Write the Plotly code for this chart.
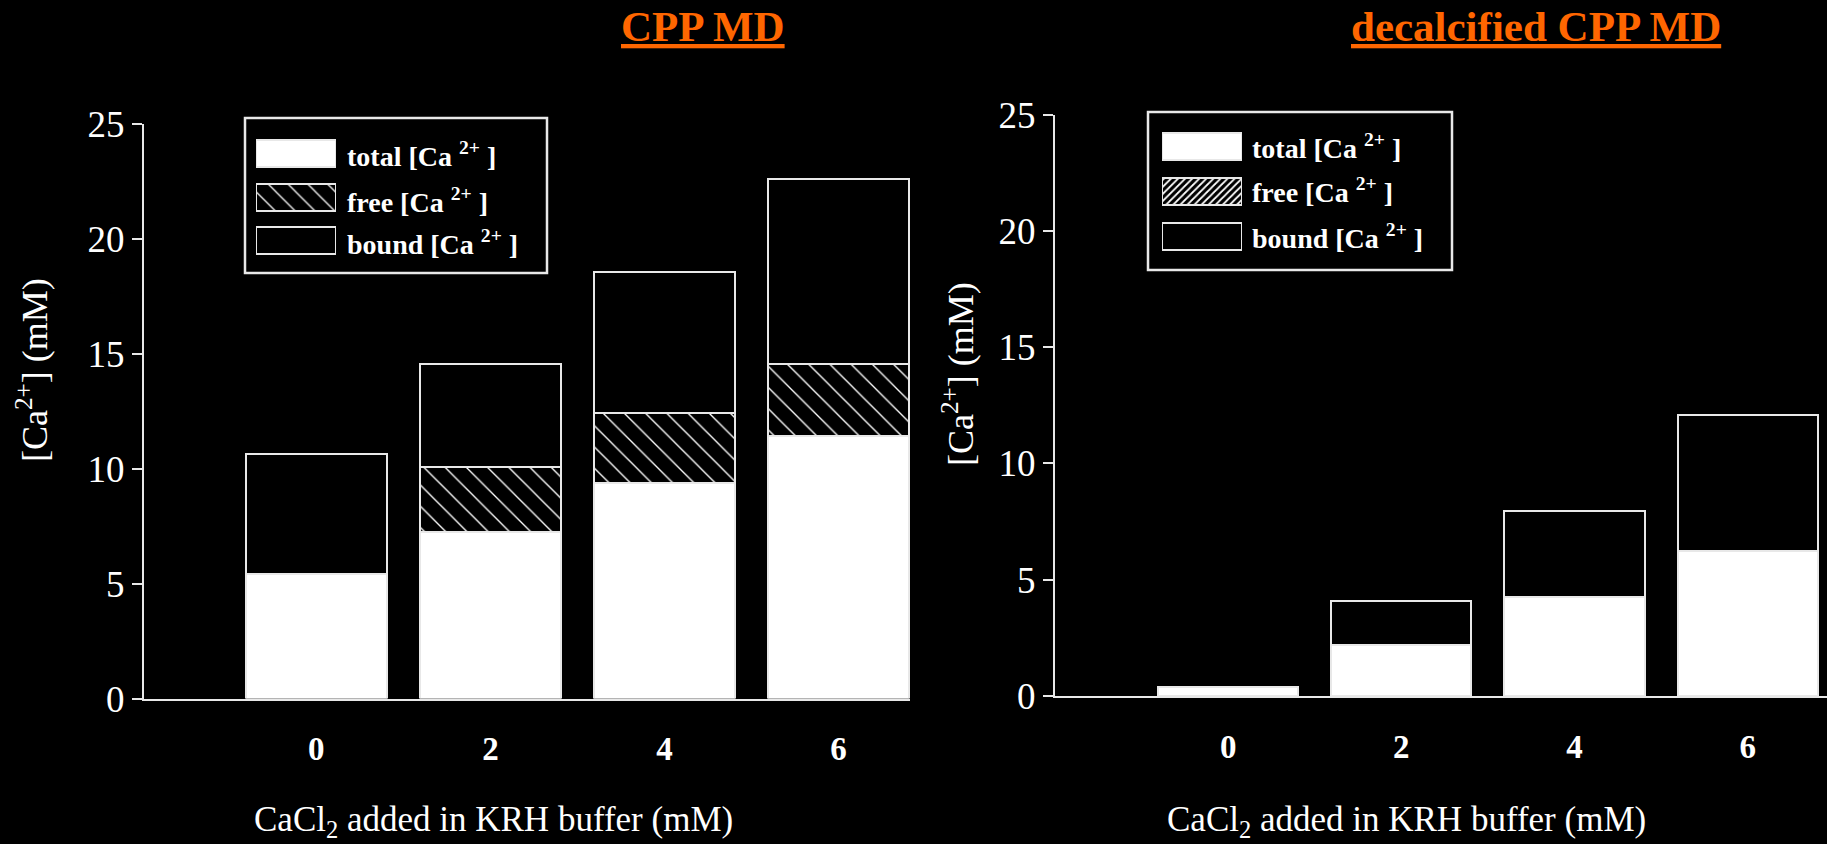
import plotly.graph_objects as go

# ---------------- data ----------------
categories = ["0", "2", "4", "6"]          # CaCl2 added (mM)

# CPP MD (left panel) – stacked segment heights (mM)
cpp_total = [5.43, 7.26, 9.39, 11.42]
cpp_free = [0.0, 2.81, 3.04, 3.14]
cpp_bound = [5.22, 4.51, 6.13, 8.03]

# decalcified CPP MD (right panel)
dec_total = [0.39, 2.22, 4.26, 6.23]
dec_free = [0.0, 0.0, 0.0, 0.0]
dec_bound = [0.0, 1.88, 3.73, 5.85]

series_names = ["total", "free", "bound"]
legend_labels = ["total [Ca <sup>2+</sup> ]", "free [Ca <sup>2+</sup> ]", "bound [Ca <sup>2+</sup> ]"]
titles = ["CPP MD", "decalcified CPP MD"]
x_title = "CaCl<sub>2</sub> added in KRH buffer (mM)"
y_title = "[Ca<sup>2+</sup>] (mM)"

# ---------------- styling ----------------
W, H = 1827, 844
SERIF = "Liberation Serif"
WHITE = "#ffffff"
EDGE = "#e8e8e8"
ORANGE = "#ff6600"


def px_x(p):
    return p / W


def px_y(p):
    return 1 - p / H


xpos = list(range(len(categories)))

fig = go.Figure()


def add_panel(totals, frees, bounds, xa, ya, free_shape, free_size):
    fig.add_trace(go.Bar(x=xpos, y=totals, name=series_names[0], width=0.81,
                         marker=dict(color=WHITE, line=dict(color=EDGE, width=2)),
                         xaxis=xa, yaxis=ya, showlegend=False, hoverinfo="y"))
    fig.add_trace(go.Bar(x=xpos, y=frees, name=series_names[1], width=0.81,
                         marker=dict(color="black", line=dict(color=EDGE, width=2),
                                     pattern=dict(shape=free_shape, fgcolor=WHITE, bgcolor="black",
                                                  size=free_size, solidity=0.09, fillmode="replace")),
                         xaxis=xa, yaxis=ya, showlegend=False, hoverinfo="y"))
    fig.add_trace(go.Bar(x=xpos, y=bounds, name=series_names[2], width=0.81,
                         marker=dict(color="black", line=dict(color=EDGE, width=2)),
                         xaxis=xa, yaxis=ya, showlegend=False, hoverinfo="y"))


add_panel(cpp_total, cpp_free, cpp_bound, "x", "y", "\\", 15)
add_panel(dec_total, dec_free, dec_bound, "x2", "y2", "/", 15)

# legend swatches drawn as bars on small hidden axes (one trace per row)
swatch_rows = [2, 1, 0]
for xa, ya, shp, sz, sol in [("x3", "y3", "\\", 14, 0.09), ("x4", "y4", "/", 5, 0.35)]:
    for k, row in enumerate(swatch_rows):
        marker = dict(color=WHITE if k == 0 else "black", line=dict(color=EDGE, width=2.5))
        if k == 1:
            marker["pattern"] = dict(shape=shp, fgcolor=WHITE, bgcolor="black",
                                     size=sz, solidity=sol, fillmode="replace")
        fig.add_trace(go.Bar(
            x=[1], y=[row], orientation="h", width=0.62, base=0,
            name=series_names[k], marker=marker,
            xaxis=xa, yaxis=ya, showlegend=False, hoverinfo="skip", cliponaxis=False))

xcommon = dict(showgrid=False, zeroline=False, showline=True, linecolor=EDGE, linewidth=2,
               ticks="", tickvals=xpos, ticktext=categories, automargin=False,
               tickfont=dict(family=SERIF, size=33, color=WHITE, weight="bold"),
               ticklabelstandoff=20, fixedrange=True)
ycommon = dict(showgrid=False, zeroline=False, showline=True, linecolor=EDGE, linewidth=2,
               ticks="outside", ticklen=10, tickwidth=2, tickcolor=EDGE, automargin=False,
               range=[0, 25], tickmode="linear", tick0=0, dtick=5,
               tickfont=dict(family=SERIF, size=37, color=WHITE), fixedrange=True)
hidden = dict(visible=False, fixedrange=True, automargin=False)

fig.update_layout(
    width=W, height=H, autosize=False,
    margin=dict(l=0, r=0, t=0, b=0, pad=0, autoexpand=False),
    paper_bgcolor="black", plot_bgcolor="black",
    barmode="stack", bargap=0,
    showlegend=False,
    xaxis=dict(xcommon, domain=[px_x(144), px_x(910)], range=[-0.99, 3.41], anchor="y"),
    yaxis=dict(ycommon, domain=[px_y(698.6), px_y(123.8)], anchor="x"),
    xaxis2=dict(xcommon, domain=[px_x(1055), 1.0], range=[-1.0, 3.458], anchor="y2"),
    yaxis2=dict(ycommon, domain=[px_y(695.9), px_y(114.6)], anchor="x2"),
    xaxis3=dict(hidden, domain=[px_x(256), px_x(336)], range=[0, 1], anchor="y3"),
    yaxis3=dict(hidden, domain=[px_y(262.75), px_y(132.25)], range=[-0.5, 2.5], anchor="x3"),
    xaxis4=dict(hidden, domain=[px_x(1162), px_x(1242)], range=[0, 1], anchor="y4"),
    yaxis4=dict(hidden, domain=[px_y(259), px_y(124)], range=[-0.5, 2.5], anchor="x4"),
)

shapes = []
annotations = []

# legend boxes and texts
for (bx0, bx1, by0, by1, tx, rows_y) in [
        (245, 547, 118, 273, 345, [155, 200, 243]),
        (1148, 1452, 112, 270, 1250, [146, 191, 236])]:
    shapes.append(dict(type="rect", xref="paper", yref="paper",
                       x0=px_x(bx0), x1=px_x(bx1), y0=px_y(by1), y1=px_y(by0),
                       line=dict(color=EDGE, width=2.5), fillcolor="rgba(0,0,0,0)"))
    for lab, ry in zip(legend_labels, rows_y):
        annotations.append(dict(text="<b>" + lab + "</b>", xref="paper", yref="paper",
                                x=px_x(tx), y=px_y(ry), xanchor="left", yanchor="middle",
                                showarrow=False, font=dict(family=SERIF, size=28, color=WHITE)))

# panel titles
for t, cx in zip(titles, [703, 1536]):
    annotations.append(dict(text="<b><u>" + t + "</u></b>", xref="paper", yref="paper",
                            x=px_x(cx), y=px_y(26), xanchor="center", yanchor="middle",
                            showarrow=False, font=dict(family=SERIF, size=43, color=ORANGE)))

# axis titles
for cx in [493, 1406]:
    annotations.append(dict(text=x_title, xref="paper", yref="paper",
                            x=px_x(cx), y=px_y(821), xanchor="center", yanchor="middle",
                            showarrow=False, font=dict(family=SERIF, size=35, color=WHITE)))
for cx, cy in [(33, 370), (958, 374)]:
    annotations.append(dict(text=y_title, xref="paper", yref="paper", textangle=-90,
                            x=px_x(cx), y=px_y(cy), xanchor="center", yanchor="middle",
                            showarrow=False, font=dict(family=SERIF, size=36, color=WHITE)))

fig.update_layout(shapes=shapes, annotations=annotations)

fig.write_html("out.html", config={"displayModeBar": False})
